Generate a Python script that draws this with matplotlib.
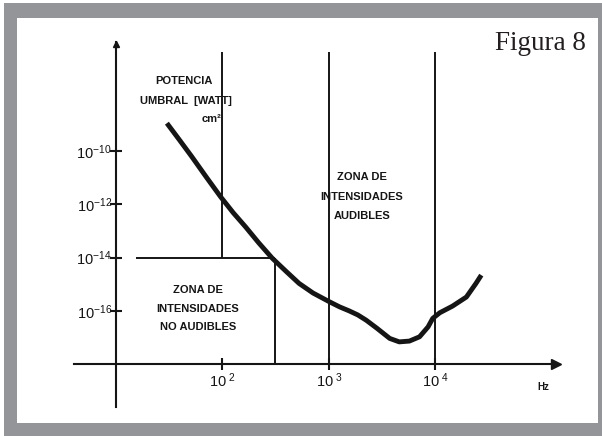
import numpy as np
import matplotlib.pyplot as plt
from matplotlib.patches import Rectangle

plt.rcParams['font.family'] = ['Liberation Sans', 'DejaVu Sans']
plt.rcParams['mathtext.fontset'] = 'custom'
plt.rcParams['mathtext.rm'] = 'Liberation Sans'
plt.rcParams['mathtext.it'] = 'Liberation Sans:italic'
plt.rcParams['mathtext.bf'] = 'Liberation Sans:bold'

# threshold curve (log10 of Hz, log10 of W/cm2)
freq_exp = [1.478, 1.60, 1.711, 1.85, 1.981, 2.10, 2.216, 2.34, 2.468, 2.60, 2.719,
            2.85, 3.0, 3.10, 3.19, 3.27, 3.35, 3.45, 3.57, 3.66, 3.755, 3.85,
            3.93, 3.974, 4.04, 4.16, 4.29, 4.38, 4.43]
power_exp = [-8.97, -9.62, -10.22, -11.0, -11.72, -12.32, -12.85, -13.45, -14.03, -14.53, -14.97,
             -15.33, -15.65, -15.85, -16.0, -16.15, -16.35, -16.65, -17.03, -17.16, -17.13, -16.97,
             -16.6, -16.28, -16.07, -15.82, -15.48, -14.97, -14.66]
freq = 10.0 ** np.array(freq_exp)
power = 10.0 ** np.array(power_exp)

x_ticks = [1e2, 1e3, 1e4]
x_labels = [r'$\mathregular{10^{\ 2}}$', r'$\mathregular{10^{\ 3}}$', r'$\mathregular{10^{\ 4}}$']
y_ticks = [1e-10, 1e-12, 1e-14, 1e-16]
y_labels = [r'$\mathregular{10^{-10}}$', r'$\mathregular{10^{-12}}$',
            r'$\mathregular{10^{-14}}$', r'$\mathregular{10^{-16}}$']

audible_limit = 1e-14      # horizontal line
audible_freq = 10 ** 2.49  # right edge of the "no audibles" box

W, H = 602, 436
fig = plt.figure(figsize=(W / 100, H / 100), dpi=100)
ax = fig.add_axes([0, 0, 1, 1])
ax.set_xscale('log')
ax.set_yscale('log')
ax.set_xlim(10 ** -0.0892, 10 ** 5.5634)
ax.set_ylim(10 ** -20.685, 10 ** -4.356)
ax.set_facecolor('none')

def px(x, y):
    # pixel position -> figure fraction
    return x / W, 1 - y / H

# grey frame
gray = '#939598'
ax.add_patch(Rectangle((4 / W, 0), 1, 1 - 3 / H, transform=ax.transAxes,
                       color=gray, zorder=-3, lw=0))
x0, y0 = px(17, 423)
x1, y1 = px(598, 18)
ax.add_patch(Rectangle((x0, y0), x1 - x0, y1 - y0, transform=ax.transAxes,
                       color='white', zorder=-2, lw=0))

# axes through the origin
ink = '#151515'
for s in ['top', 'right']:
    ax.spines[s].set_visible(False)
ax.spines['left'].set_position(('data', 10))
ax.spines['bottom'].set_position(('data', 1e-18))
ax.spines['left'].set_bounds(10 ** -19.6, 10 ** -5.93)
ax.spines['bottom'].set_bounds(10 ** 0.61, 10 ** 5.13)
for s in ['left', 'bottom']:
    ax.spines[s].set_linewidth(1.5)
    ax.spines[s].set_color(ink)
ax.plot([10], [10 ** -6.0], marker='^', ms=5, color=ink, clip_on=False)
ax.plot([10 ** 5.13], [1e-18], marker='>', ms=7, color=ink, clip_on=False)

ax.set_xticks(x_ticks)
ax.set_xticklabels(x_labels, fontsize=10.5)
ax.set_yticks(y_ticks)
ax.set_yticklabels(y_labels, fontsize=10.5)
ax.minorticks_off()
ax.tick_params(direction='inout', length=8, width=1.5, color=ink, labelcolor=ink)
ax.tick_params(axis='y', pad=-1)
ax.tick_params(axis='x', pad=1)

# zone boundaries
top = 10 ** -6.3
ax.vlines([1e2], audible_limit, top, color=ink, lw=1.4)
ax.vlines([1e3, 1e4], 1e-18, top, color=ink, lw=1.4)
ax.vlines([audible_freq], 1e-18, audible_limit, color=ink, lw=1.4)
ax.hlines([audible_limit], 10 ** 1.19, audible_freq, color=ink, lw=1.4)

# threshold curve
ax.plot(freq, power, color=ink, lw=3.5, solid_capstyle='butt', solid_joinstyle='round')

kw = dict(fontsize=8, fontweight='bold', color=ink, ha='center', va='center')
fig.text(*px(184, 81), 'POTENCIA', **kw)
fig.text(*px(140, 101), 'UMBRAL  [WATT]', **{**kw, 'ha': 'left'})
fig.text(*px(212, 119), 'cm²', **kw)
for i, t in enumerate(['ZONA DE', 'INTENSIDADES', 'AUDIBLES']):
    fig.text(*px(362, 177 + 19.5 * i), t, **kw)
for i, t in enumerate(['ZONA DE', 'INTENSIDADES', 'NO AUDIBLES']):
    fig.text(*px(198, 290 + 18.5 * i), t, **kw)
fig.text(*px(543, 387), 'Hz', **{**kw, 'fontsize': 7})

fig.text(*px(586, 50), 'Figura 8', family='Liberation Serif', fontsize=19.5,
         color='#231f20', ha='right', va='baseline')

fig.savefig('out.png', dpi=100)
